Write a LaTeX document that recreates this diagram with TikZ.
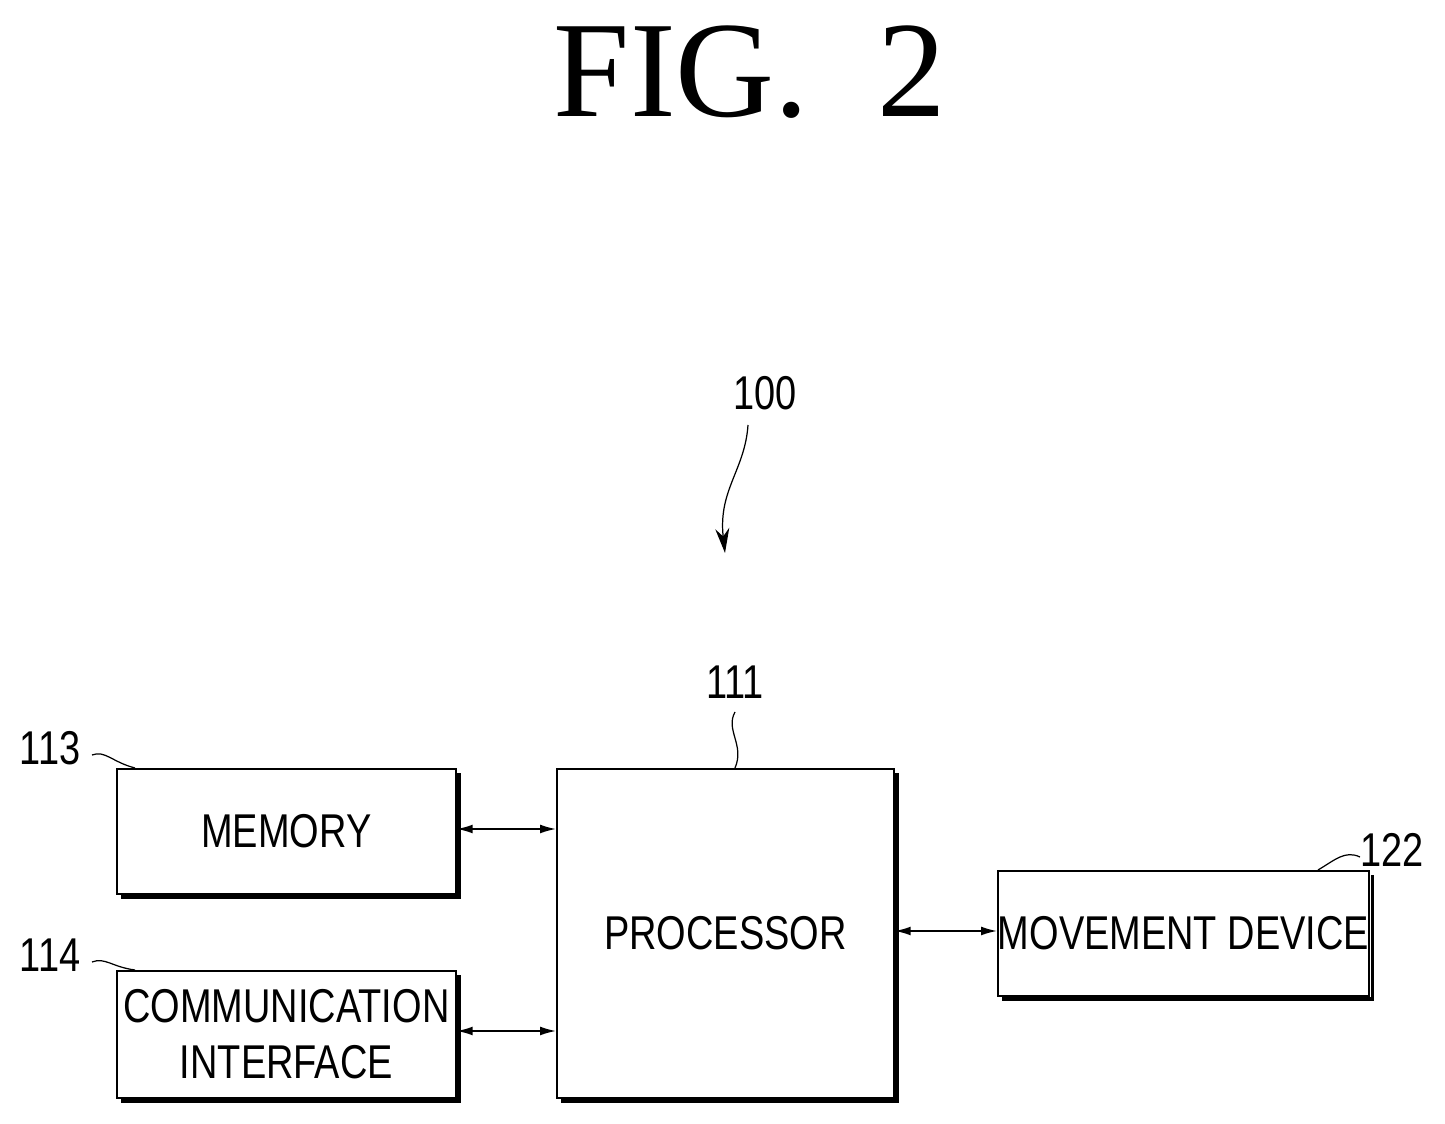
\documentclass[tikz,border=0pt]{standalone}
\usepackage{fontspec}
\setmainfont{Liberation Serif}
\newfontfamily\lab{Liberation Sans}
\usetikzlibrary{arrows.meta,decorations.pathmorphing}
\begin{document}
\begin{tikzpicture}[x=0.02cm,y=-0.02cm,
  box/.style={draw,line width=1pt,minimum width=339*0.02cm,anchor=north west,inner sep=0pt,font=\lab\fontsize{27}{36}\selectfont,align=center},
  shade/.style={line width=2.2pt},
  lbl/.style={font=\lab\fontsize{27}{30}\selectfont,xscale=0.8},
  con/.style={line width=0.9pt,{Latex[length=9pt,width=5pt]}-{Latex[length=9pt,width=5pt]}},
  lead/.style={line width=0.7pt}]
\useasboundingbox (0,0) rectangle (1445,1124);
\node[font=\fontsize{78}{80}\selectfont] (t) at (750,72) {FIG.\ \ 2};
\node[box,minimum height=125*0.02cm] (mem) at (116,768) {\scalebox{0.8}[1]{MEMORY}};
\node[box,minimum height=127*0.02cm] (com) at (116,970) {\scalebox{0.8}[1]{COMMUNICATION}\\[-4pt]\scalebox{0.8}[1]{INTERFACE}};
\node[box,minimum width=337*0.02cm,minimum height=329*0.02cm] (pro) at (556,768) {\scalebox{0.8}[1]{PROCESSOR}};
\node[box,minimum width=338*0.02cm,minimum height=125*0.02cm] (mov) at (997,870) {\scalebox{0.8}[1]{MOVEMENT DEVICE}};
\foreach \n in {mem,com,pro,mov}{
  \draw[shade] ([xshift=1.5pt,yshift=-3pt]\n.north east) -- ([xshift=1.5pt,yshift=-1.5pt]\n.south east) -- ([xshift=3pt,yshift=-1.5pt]\n.south west);}
\draw[con] (mem.east |- 0,829) -- (pro.west |- 0,829);
\draw[con] (com.east |- 0,1031) -- (pro.west |- 0,1031);
\draw[con] (pro.east |- 0,931) -- (mov.west |- 0,931);
\node[lbl] (l113) at (50,748) {113};
\node[lbl] (l114) at (50,955) {114};
\node[lbl] (l111) at (735,682) {111};
\node[lbl] (l122) at (1392,850) {122};
\node[lbl] (l100) at (765,393) {100};
\coordinate (a) at (92,755); \coordinate (b) at (92,962);
\draw[lead] (a) .. controls (105,750) and (112,762) .. (135,768);
\draw[lead] (b) .. controls (105,957) and (112,967) .. (135,970);
\draw[lead] (735,712) .. controls (725,730) and (745,745) .. (735,768);
\draw[lead] (1360,857) .. controls (1345,850) and (1335,860) .. (1318,870);
\draw[lead,-{Stealth[length=14pt,width=8pt]}] (748,425) .. controls (745,470) and (718,490) .. (725,553);
\end{tikzpicture}
\end{document}
